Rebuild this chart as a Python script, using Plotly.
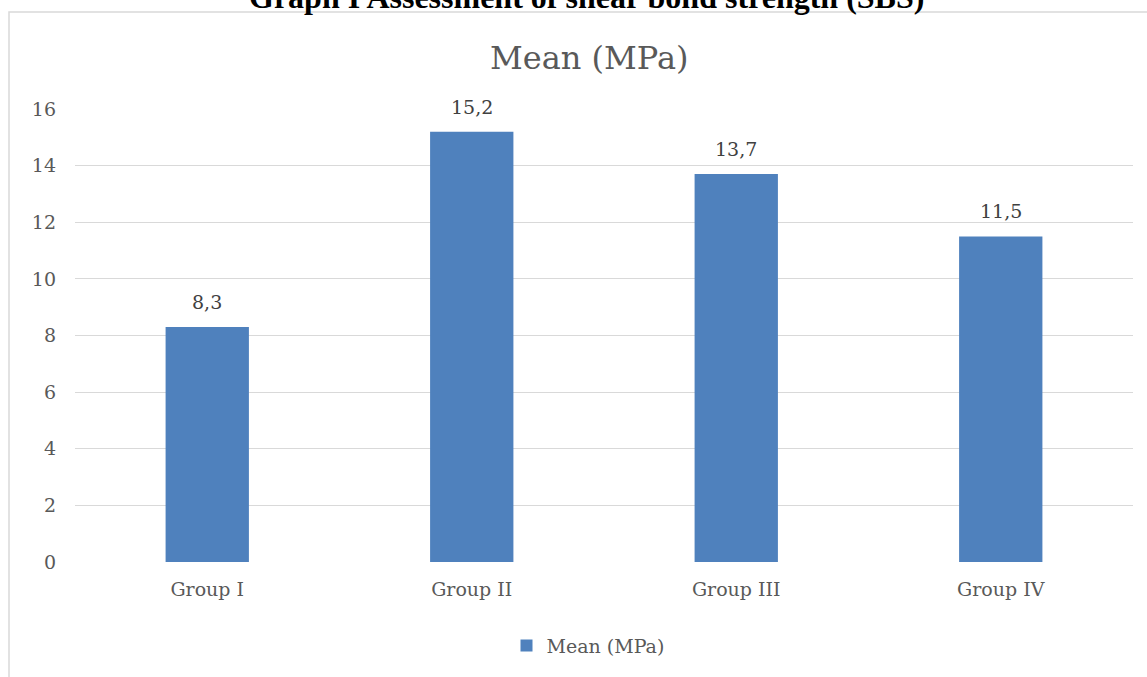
import plotly.graph_objects as go

categories = ["Group I", "Group II", "Group III", "Group IV"]
mean_mpa = [8.3, 15.2, 13.7, 11.5]
y_ticks = [0, 2, 4, 6, 8, 10, 12, 14, 16]

W, H = 1147, 677
L, R, T, B = 75, 14, 109, 113
PW, PH = W - L - R, H - T - B

def px(x):
    return (x - L) / PW

def py(y):
    return (H - B - y) / PH

FONT = "DejaVu Serif"

fig = go.Figure()
fig.add_trace(go.Bar(
    x=categories, y=mean_mpa, name="Mean (MPa)",
    marker=dict(color="#4f81bd", line=dict(width=0)),
    width=0.315,
    hoverinfo="x+y",
))

for cat, val in zip(categories, mean_mpa):
    fig.add_annotation(x=cat, y=val, xref="x", yref="y",
                       text=f"{val:.1f}".replace(".", ","),
                       showarrow=False, yanchor="bottom", yshift=12,
                       font=dict(family=FONT, size=19, color="#404040"))

fig.update_layout(
    width=W, height=H,
    margin=dict(l=L, r=R, t=T, b=B),
    paper_bgcolor="white", plot_bgcolor="white",
    separators=", ",
    showlegend=True,
    legend=dict(orientation="h", x=px(588), xanchor="center", y=py(648), yanchor="middle",
                font=dict(family=FONT, size=19, color="#595959")),
    xaxis=dict(showgrid=False, showline=False, zeroline=False, ticks="",
               tickfont=dict(family=FONT, size=19, color="#595959"),
               ticklabelstandoff=14),
    yaxis=dict(range=[0, 16], tickvals=y_ticks, showgrid=True, gridcolor="#d9d9d9", gridwidth=1,
               zeroline=False, showline=False, ticks="",
               tickfont=dict(family=FONT, size=19, color="#595959"),
               ticklabelstandoff=18),
    bargap=0.685,
)

fig.add_annotation(text="Mean (MPa)", xref="paper", yref="paper", x=px(589), y=py(58),
                   xanchor="center", yanchor="middle", showarrow=False,
                   font=dict(family=FONT, size=32, color="#595959"))
fig.add_annotation(text="<b>Graph I Assessment of shear bond strength (SBS)</b>", xref="paper", yref="paper",
                   x=px(586), y=py(17), xanchor="center", yanchor="bottom", showarrow=False,
                   font=dict(family="Liberation Serif", size=32, color="black"))

fig.add_shape(type="rect", xref="paper", yref="paper", x0=px(9), x1=px(1160), y0=py(690), y1=py(11.5),
              line=dict(color="#d9d9d9", width=1.5), fillcolor="rgba(0,0,0,0)", layer="below")

fig.write_html("out.html", config={"displayModeBar": False},
               post_script="document.body.style.margin='0';")
